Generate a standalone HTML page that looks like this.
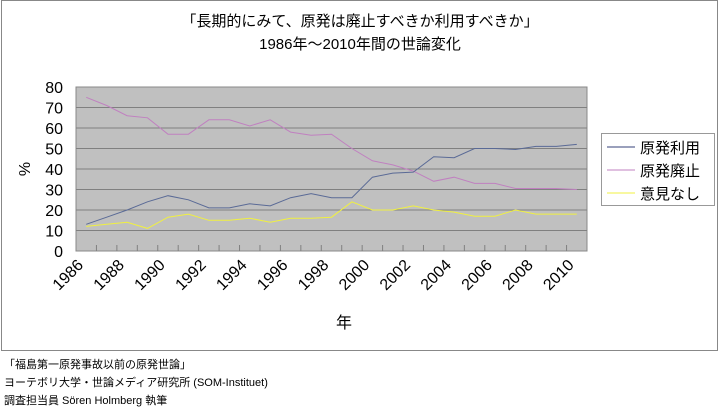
<!DOCTYPE html><html><head><meta charset="utf-8"><style>
body{margin:0;width:720px;height:408px;background:#fff;overflow:hidden;font-family:"Liberation Sans","Noto Sans CJK JP",sans-serif}
</style></head><body>
<svg width="720" height="408" xmlns="http://www.w3.org/2000/svg" style="position:absolute;left:0;top:0;font-family:'Liberation Sans','Noto Sans CJK JP',sans-serif">
<rect x="1.5" y="0.5" width="716" height="350" fill="#fff" stroke="#888"/>
<text x="360" y="26" font-size="15" text-anchor="middle">「長期的にみて、原発は廃止すべきか利用すべきか」</text>
<text x="360" y="49" font-size="15" text-anchor="middle">1986年～2010年間の世論変化</text>
<rect x="76" y="87" width="511" height="164" fill="#c0c0c0" stroke="#888"/>
<g stroke="#808080" stroke-width="1">
<line x1="76" x2="587" y1="107.5" y2="107.5"/><line x1="76" x2="587" y1="128" y2="128"/><line x1="76" x2="587" y1="148.5" y2="148.5"/><line x1="76" x2="587" y1="169" y2="169"/><line x1="76" x2="587" y1="189.5" y2="189.5"/><line x1="76" x2="587" y1="210" y2="210"/><line x1="76" x2="587" y1="230.5" y2="230.5"/>
</g>
<g id="ticks" stroke="#808080"></g>
<g font-size="16" text-anchor="end" id="yl"></g>
<text x="30" y="169" font-size="16" transform="rotate(-90 30 169)" text-anchor="middle">%</text>
<g font-size="16" id="xl"></g>
<text x="336" y="328" font-size="16">年</text>
<polyline id="a" fill="none" stroke="#c080c0" stroke-width="1"/>
<polyline id="u" fill="none" stroke="#5a6a96" stroke-width="1"/>
<polyline id="n" fill="none" stroke="#f0f040" stroke-width="1"/>
<rect x="601.5" y="133.5" width="113" height="72" fill="#fff" stroke="#999"/>
<line x1="607" x2="635" y1="147" y2="147" stroke="#9aa0bc" stroke-width="2"/>
<line x1="607" x2="635" y1="170" y2="170" stroke="#c080c0"/>
<line x1="607" x2="635" y1="193" y2="193" stroke="#f0f040"/>
<text x="640" y="153" font-size="15">原発利用</text>
<text x="640" y="176" font-size="15">原発廃止</text>
<text x="640" y="199" font-size="15">意見なし</text>
<text x="4" y="368" font-size="11">「福島第一原発事故以前の原発世論」</text>
<text x="4" y="386" font-size="11">ヨーテボリ大学・世論メディア研究所 (SOM-Instituet)</text>
<text x="4" y="404" font-size="11">調査担当員 Sören Holmberg 執筆</text>
</svg>
<script>
var u=[13,16.5,20,24,27,25,21,21,23,22,26,28,26,26,36,38,38.5,46,45.5,50,50,49.5,51,51,52];
var a=[75,71,66,65,57,57,64,64,61,64,58,56.5,57,50,44,42,39,34,36,33,33,30.5,30.5,30.5,30];
var n=[12,13,14,11,16.5,18,15,15,16,14,16,16,16.5,24,20,20,22,20,19,17,17,20,18,18,18];
function X(i){return 76+10.22+20.44*i}function Y(v){return 251-2.05*v}
function pts(d){return d.map(function(v,i){return X(i).toFixed(1)+","+Y(v).toFixed(1)}).join(" ")}
document.getElementById('u').setAttribute('points',pts(u));
document.getElementById('a').setAttribute('points',pts(a));
document.getElementById('n').setAttribute('points',pts(n));
var ns="http://www.w3.org/2000/svg",t=document.getElementById('ticks'),yl=document.getElementById('yl'),xl=document.getElementById('xl');
for(var i=1;i<25;i++){var l=document.createElementNS(ns,'line');var x=76+20.44*i;l.setAttribute('x1',x);l.setAttribute('x2',x);l.setAttribute('y1',245);l.setAttribute('y2',251);t.appendChild(l);}
for(var v=0;v<=80;v+=10){var e=document.createElementNS(ns,'text');e.setAttribute('x',63);e.setAttribute('y',Y(v)+6);e.textContent=v;yl.appendChild(e);}
for(var i=0;i<25;i+=2){var e=document.createElementNS(ns,'text');var x=X(i)-2,y=266;e.setAttribute('x',x);e.setAttribute('y',y);e.setAttribute('text-anchor','end');e.setAttribute('transform','rotate(-45 '+x+' '+y+')');e.textContent=1986+i;xl.appendChild(e);}
</script>
</body></html>
